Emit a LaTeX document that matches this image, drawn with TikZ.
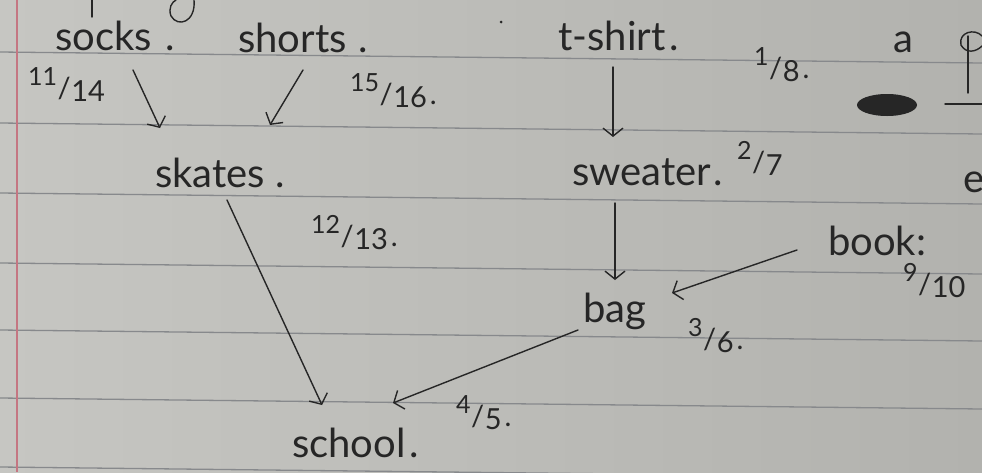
\documentclass[tikz,border=0pt]{standalone}
\usepackage{fontspec}
\setmainfont{Lato}
\usetikzlibrary{calc,arrows.meta}
\definecolor{ink}{RGB}{38,38,38}
\definecolor{paperL}{RGB}{198,198,194}
\definecolor{paperR}{RGB}{178,178,174}
\definecolor{ruleline}{RGB}{135,137,140}
\definecolor{marginred}{RGB}{196,118,130}
\newcommand\hfr[2]{\raisebox{0.42em}{\fontsize{25}{25}\selectfont #1}\kern0.5pt/\kern0.5pt\raisebox{-0.12em}{#2}}
\begin{document}
\begin{tikzpicture}[x=1pt,y=-1pt,
  word/.style={anchor=base west, inner sep=0pt, text=ink, font=\fontsize{40}{42}\selectfont},
  num/.style={anchor=base west, inner sep=0pt, text=ink, font=\fontsize{29}{30}\selectfont},
  arr/.style={draw=ink, line width=1.4pt, line cap=round, -{Straight Barb[length=8pt,width=20pt,line width=1.4pt]}},
  rule/.style={draw=ruleline, line width=1.3pt},
  margin/.style={draw=marginred, line width=2pt},
  scrap/.style={draw=ink, line width=1.4pt, line cap=round}]
\useasboundingbox (0,0) rectangle (982,472);
\begin{scope}
\clip (0,0) rectangle (982,472);
\shade[left color=paperL, right color=paperR] (0,0) rectangle (982,472);
\foreach \yy in {52,123,193,263,330,398,467} \draw[rule] (0,\yy) -- (982,\yy+11);
\draw[margin] (17,0) -- (17,472);
% fragments from the lines above / beside
\draw[scrap] (92,0) -- (92,17);
\draw[scrap] (194,0) .. controls (196,22) and (178,28) .. (171,16) .. controls (168,8) and (172,2) .. (176,0);
\fill[ink] (501,22) circle (1.5pt);
\node[word] (fa) at (893,52) {a};
\draw[scrap] (968,36) -- (968,93);
\draw[scrap] (961,45) .. controls (958,32) and (975,28) .. (982,36);
\draw[scrap] (961,45) .. controls (966,54) and (976,52) .. (982,46);
\fill[ink] (887,105) ellipse (30pt and 11pt);
\draw[scrap] (945,104) -- (982,104);
\node[word] (fe) at (963,192) {e};
% main nodes
\node[word] (socks) at (55,50) {socks\hspace{14pt}.};
\node[word] (shorts) at (238,52) {shorts\hspace{12pt}.};
\node[word] (tshirt) at (558,50) {t-shirt\hspace{4pt}.};
\node[num] (f18) at (754,78) {\hfr{1}{8}\hspace{3pt}.};
\node[num] (f1114) at (28,98) {\hfr{11}{14}};
\node[num] (f1516) at (350,104) {\hfr{15}{16}\hspace{3pt}.};
\node[word] (skates) at (155,187) {skates\hspace{10pt}.};
\node[word] (sweater) at (572,185) {sweater\hspace{2pt}.};
\node[num] (f27) at (737,172) {\hfr{2}{7}};
\node[num] (f1213) at (311,246) {\hfr{12}{13}\hspace{3pt}.};
\node[word] (book) at (828,255) {book:};
\node[num] (f910) at (903,294) {\hfr{9}{10}};
\node[word] (bag) at (583,322) {bag};
\node[num] (f36) at (688,349) {\hfr{3}{6}\hspace{3pt}.};
\node[word] (school) at (292,457) {school\hspace{4pt}.};
\node[num] (f45) at (456,426) {\hfr{4}{5}\hspace{3pt}.};
% connectors
\draw[arr] ($(socks.base west)+(78,20)$) -- ($(skates.base west)+(5,-59)$);
\draw[arr] ($(shorts.base west)+(65,18)$) -- ($(skates.base west)+(115,-62)$);
\draw[arr] ($(tshirt.base west)+(55,17)$) -- ($(sweater.base west)+(41,-48)$);
\draw[arr] ($(sweater.base west)+(43,18)$) -- ($(bag.base west)+(32,-42)$);
\draw[arr] ($(book.base west)+(-31,-5)$) -- ($(bag.base west)+(89,-29)$);
\draw[arr] ($(skates.base west)+(72,13)$) -- ($(school.base west)+(30,-52)$);
\draw[arr] ($(bag.base west)+(-5,8)$) -- ($(school.base west)+(101,-54)$);
\end{scope}
\end{tikzpicture}
\end{document}
